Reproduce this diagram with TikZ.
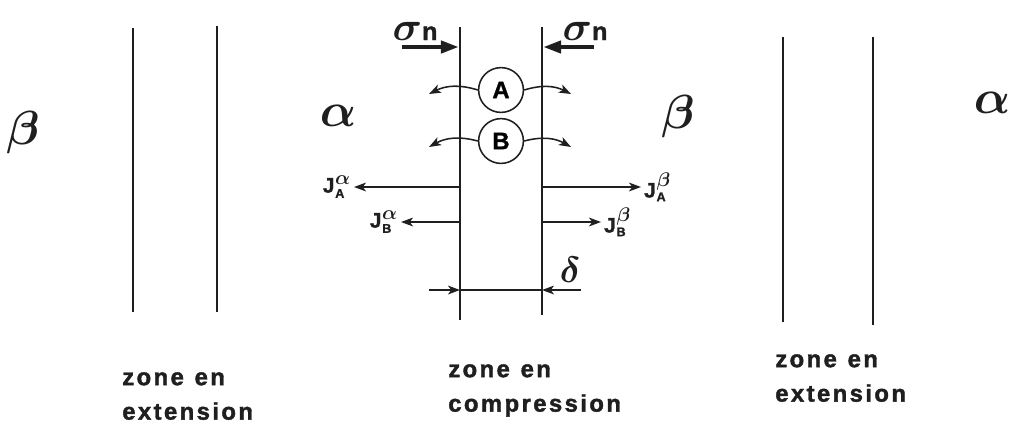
\RequirePackage{fix-cm}
\documentclass[tikz,border=0pt]{standalone}
\usepackage{bm}
\usepackage{fontspec}
\newfontfamily\zonefont[LetterSpace=10, BoldFeatures={FakeBold=1.6}]{Liberation Sans}
\newfontfamily\labfont[BoldFeatures={FakeBold=1.2}]{Liberation Sans}
\usetikzlibrary{arrows.meta}
\colorlet{ink}{black!88}
\newcommand{\fluxlab}[2]{\labfont\bfseries J\kern0.5pt$^{\mbox{\fontsize{14}{14}\selectfont$\bm{#1}$}}_{\mbox{\fontsize{9}{9}\selectfont\labfont\bfseries #2}}$}
\newcommand{\stresslab}{\fontsize{29}{29}\selectfont$\bm{\sigma}$\labfont\bfseries\fontsize{18}{18}\selectfont n}
\newcommand{\zoneen}{zone\hspace{0.45em}en}
\tikzset{
    zonewall/.style={draw=ink, line width=1.9pt},
    zonethin/.style={draw=ink, line width=1.1pt},
    zoneflux/.style={draw=ink, line width=1.1pt, -{Stealth[length=3mm,width=2.2mm,inset=0.8mm]}},
    zonepush/.style={draw=ink, line width=3pt, -{Triangle[length=4.5mm,width=3mm]}, shorten >=0.8pt},
    zoneatom/.style={draw=ink, circle, line width=1.1pt, minimum size=1.12cm, inner sep=0pt, font=\labfont\bfseries\fontsize{17}{17}\selectfont},
    zonegreek/.style={text=ink, font=\fontsize{34}{34}\selectfont},
    zoneflab/.style={text=ink, inner sep=2pt, font=\fontsize{15}{15}\selectfont},
    zonetext/.style={text=ink, align=left, inner sep=0pt, anchor=north west, font=\zonefont\bfseries\fontsize{17}{24.5}\selectfont}
}

\begin{document}
\begin{tikzpicture}[x=0.025cm, y=-0.025cm]
    \useasboundingbox (0,0) rectangle (1010,424);

    % grain boundaries
    \foreach \wname/\wx/\wtop/\wbot in {wa/133/28/312, wb/217/26/312, wl/460/27/320, wr/542/27/315, wc/783/37/322, wd/873/37/325}{
        \coordinate (\wname-t) at (\wx,\wtop);
        \coordinate (\wname-b) at (\wx,\wbot);
        \draw[zonewall] (\wname-t) -- (\wname-b);
    }

    % phases
    \node[zonegreek] (beta1) at (23,133) {$\bm{\beta}$};
    \node[zonegreek] (alpha1) at (338,116) {$\bm{\alpha}$};
    \node[zonegreek] (beta2) at (678,117) {$\bm{\beta}$};
    \node[zonegreek] (alpha2) at (992,103) {$\bm{\alpha}$};

    % normal stress
    \coordinate (pushl) at (402,47);
    \coordinate (pushr) at (594,47);
    \draw[zonepush] (pushl) -- (wl-t |- pushl);
    \draw[zonepush] (pushr) -- (wr-t |- pushr);
    \node[text=ink, anchor=base] (sigl) at (415,40) {\stresslab};
    \node[text=ink, anchor=base] (sigr) at (585,40) {\stresslab};

    % species in the boundary
    \node[zoneatom] (A) at (501,90) {A};
    \node[zoneatom] (B) at (501,141) {B};
    \coordinate (Aw) at (429,94);
    \coordinate (Ae) at (571,94);
    \coordinate (Bw) at (429,147);
    \coordinate (Be) at (571,147);
    \draw[zoneflux] (A.west) to[bend right=22] (Aw);
    \draw[zoneflux] (A.east) to[bend left=22] (Ae);
    \draw[zoneflux] (B.west) to[bend right=22] (Bw);
    \draw[zoneflux] (B.east) to[bend left=22] (Be);

    % fluxes
    \coordinate (JAa) at (354,187);
    \coordinate (JBa) at (401,222);
    \coordinate (JAb) at (641,187);
    \coordinate (JBb) at (601,222);
    \draw[zoneflux] (wl-t |- JAa) -- (JAa);
    \draw[zoneflux] (wl-t |- JBa) -- (JBa);
    \draw[zoneflux] (wr-t |- JAb) -- (JAb);
    \draw[zoneflux] (wr-t |- JBb) -- (JBb);
    \node[zoneflab, anchor=east] (labJAa) at (JAa) {\fluxlab{\alpha}{A}};
    \node[zoneflab, anchor=east] (labJBa) at (JBa) {\fluxlab{\alpha}{B}};
    \node[zoneflab, anchor=west] (labJAb) at (JAb) {\fluxlab{\beta}{A}};
    \node[zoneflab, anchor=west] (labJBb) at (JBb) {\fluxlab{\beta}{B}};

    % thickness
    \coordinate (dl) at (429,290);
    \coordinate (dr) at (581,290);
    \draw[zoneflux] (dl) -- (wl-t |- dl);
    \draw[zonethin] (wl-t |- dl) -- (wr-t |- dl);
    \draw[zoneflux] (dr) -- (wr-t |- dr);
    \node[text=ink, font=\fontsize{26}{26}\selectfont] (delta) at (570,270) {$\bm{\delta}$};

    % zones
    \node[zonetext] (zext1) at (122,372) {\zoneen\\extension};
    \node[zonetext] (zcomp) at (448,364) {\zoneen\\compression};
    \node[zonetext] (zext2) at (775,354) {\zoneen\\extension};
\end{tikzpicture}
\end{document}
